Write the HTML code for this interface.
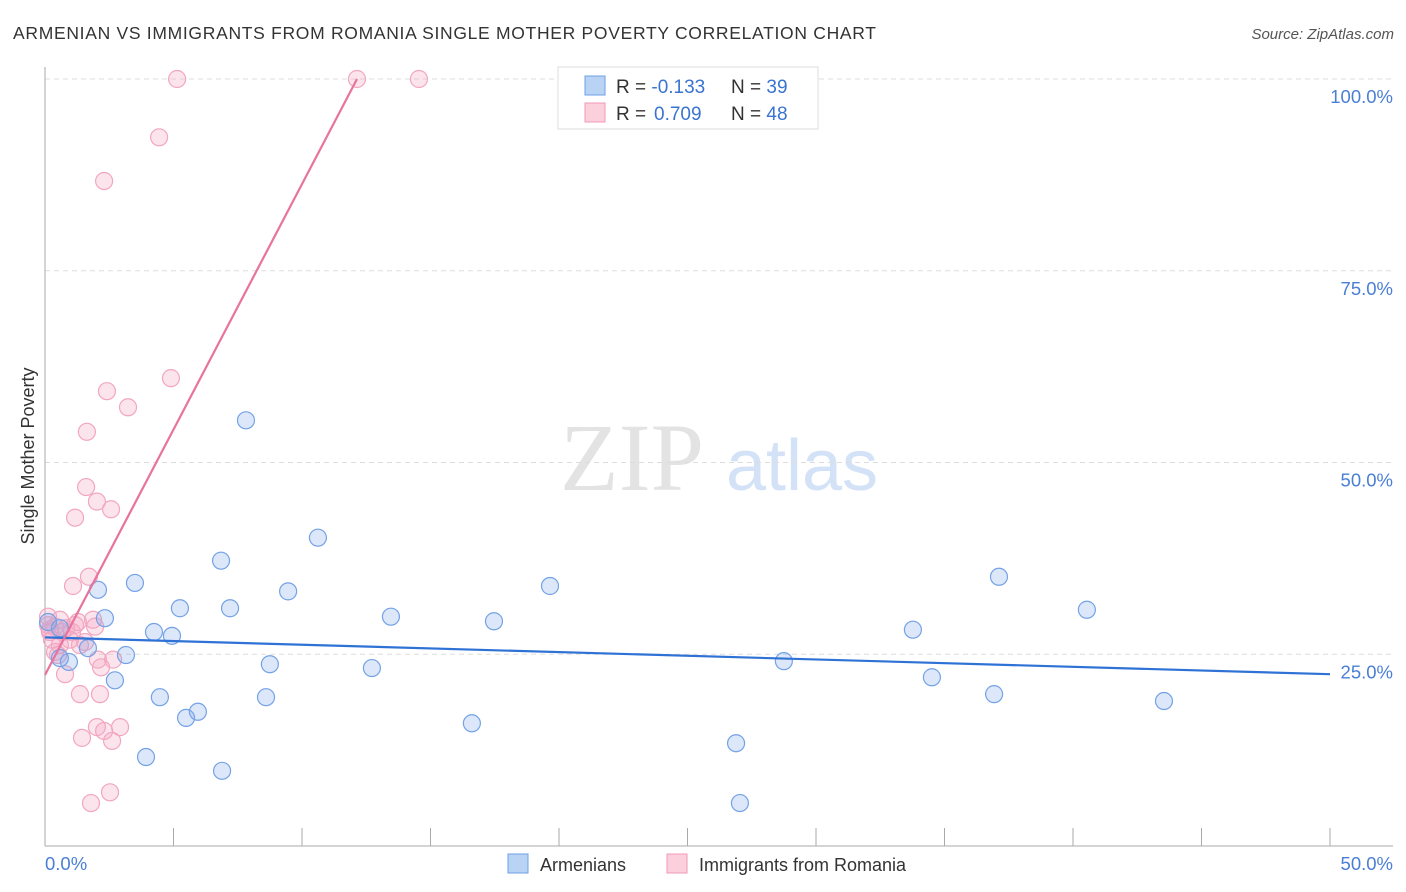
<!DOCTYPE html>
<html><head><meta charset="utf-8"><style>
body{margin:0;background:#fff;font-family:"Liberation Sans",sans-serif}
svg{display:block}
</style></head><body>
<svg id="chart" width="1406" height="892">
<text x="13" y="39" font-size="17.5" fill="#333" textLength="863">ARMENIAN VS IMMIGRANTS FROM ROMANIA SINGLE MOTHER POVERTY CORRELATION CHART</text>
<text x="1394" y="39" font-size="15" fill="#555" font-style="italic" text-anchor="end">Source: ZipAtlas.com</text>
<g><text x="632" y="490" font-size="96" fill="#ddd" font-family="Liberation Serif,serif" text-anchor="middle" opacity="0.8">ZIP</text><text x="802" y="490" font-size="72" fill="#d3e2f6" text-anchor="middle">atlas</text></g>
<text transform="translate(34,456) rotate(-90)" font-size="18" fill="#333" text-anchor="middle">Single Mother Poverty</text>
<g id="grid"></g><g id="axes"></g><g id="pts"></g><g id="trends"></g>
<g>
<rect x="558" y="67" width="260" height="62" fill="#fff" stroke="#ddd"/>
<rect x="585" y="76" width="20" height="19" fill="#b9d3f5" stroke="#6e9fe4"/>
<rect x="585" y="103" width="20" height="19" fill="#fbcfdc" stroke="#f09ab5"/>
<text x="616" y="93" font-size="19" fill="#333">R = <tspan fill="#3a74d0">-0.133</tspan><tspan x="731">N = </tspan><tspan fill="#3a74d0">39</tspan></text>
<text x="616" y="120" font-size="19" fill="#333">R = <tspan fill="#3a74d0" x="654">0.709</tspan><tspan x="731">N = </tspan><tspan fill="#3a74d0">48</tspan></text>
</g>
<g>
<rect x="508" y="854" width="20" height="19" fill="#b9d3f5" stroke="#6e9fe4"/>
<text x="540" y="871" font-size="18" fill="#333">Armenians</text>
<rect x="667" y="854" width="20" height="19" fill="#fbcfdc" stroke="#f09ab5"/>
<text x="699" y="871" font-size="18" fill="#333">Immigrants from Romania</text>
</g>
</svg>
<script>
const yTicks=[25,50,75,100];
const yTickLabels=["25.0%","50.0%","75.0%","100.0%"];
const blueX=[2.06,2.33,3.50,1.67,0.93,0.58,2.72,3.15,4.24,4.94,5.25,4.47,5.49,5.95,3.93,6.89,6.85,7.20,7.82,8.75,8.60,9.46,10.62,12.72,13.46,16.61,17.47,19.65,26.89,27.04,28.75,33.77,34.51,36.93,37.12,40.54,43.54,0.12,0.58];
const blueY=[33.4,29.7,34.3,25.8,24.0,24.5,21.6,24.9,27.9,27.4,31.0,19.4,16.7,17.5,11.6,9.8,37.2,31.0,55.5,23.7,19.4,33.2,40.2,23.2,29.9,16.0,29.3,33.9,13.4,5.6,24.1,28.2,22.0,19.8,35.1,30.8,18.9,29.2,28.4];
const pinkX=[5.14,12.14,14.55,4.44,2.30,4.90,2.41,3.23,1.63,1.60,2.02,2.57,1.17,1.09,1.71,1.87,1.28,1.95,0.58,0.39,0.66,0.19,0.12,0.97,1.56,1.36,0.39,0.51,2.06,2.65,0.78,2.18,2.14,1.36,2.02,2.30,2.92,1.44,2.61,1.79,2.53,0.12,0.19,0.82,1.05,0.58,0.27,1.17];
const pinkY=[100,100,100,92.4,86.7,61.0,59.3,57.2,54.0,46.8,44.9,43.9,42.8,33.9,35.1,29.5,29.2,28.6,29.5,28.6,27.9,28.2,28.8,26.9,26.6,26.2,25.3,24.9,24.3,24.3,22.4,23.3,19.8,19.8,15.5,15.0,15.5,14.1,13.7,5.6,7.0,29.9,27.9,28.4,27.9,26.2,26.9,28.8];
const blueTrend=[27.2,22.4];   // y at x=0, x=50
const pinkTrend=[22.3,6.4];    // intercept, slope per %
const NS="http://www.w3.org/2000/svg";
const sx=v=>45+v*25.7, sy=v=>846-v*7.67;
function mk(tag,attrs,parent){const e=document.createElementNS(NS,tag);for(const k in attrs)e.setAttribute(k,attrs[k]);parent.appendChild(e);return e;}
const grid=document.getElementById('grid'),axes=document.getElementById('axes'),pts=document.getElementById('pts'),tr=document.getElementById('trends');
yTicks.forEach((t,i)=>{
 const l=mk('line',{x1:45,x2:1393,y1:sy(t),y2:sy(t),stroke:'#ddd','stroke-dasharray':'5,4'},grid);
 
 
 const tx=mk('text',{x:1393,y:sy(t)+24,'font-size':18.5,fill:'#4a7fd4','text-anchor':'end'},grid);
 tx.textContent=yTickLabels[i];
 
 
});
const ax=mk('line',{x1:45,x2:45,y1:67,y2:846,stroke:'#aaa'},axes);


const xa=mk('line',{x1:45,x2:1393,y1:846,y2:846,stroke:'#aaa'},axes);


for(let i=0;i<=10;i++){const t=mk('line',{x1:sx(i*5),x2:sx(i*5),y1:828,y2:846,stroke:'#aaa'},axes);
 
 }
const x0=mk('text',{x:45,y:870,'font-size':18.5,fill:'#4a7fd4'},axes);x0.textContent='0.0%';


const x1=mk('text',{x:1393,y:870,'font-size':18.5,fill:'#4a7fd4','text-anchor':'end'},axes);x1.textContent='50.0%';


pinkX.forEach((x,i)=>{const c=mk('circle',{cx:sx(x),cy:sy(pinkY[i]),r:8.5,fill:'rgba(245,165,195,0.3)',stroke:'#f2a6bf','stroke-width':1.2},pts);
 
 });
blueX.forEach((x,i)=>{const c=mk('circle',{cx:sx(x),cy:sy(blueY[i]),r:8.5,fill:'rgba(130,170,235,0.28)',stroke:'#74a2e6','stroke-width':1.2},pts);
 
 });
const bl=mk('line',{x1:sx(0),y1:sy(blueTrend[0]),x2:sx(50),y2:sy(blueTrend[1]),stroke:'#2f72d6','stroke-width':2.2},tr);


const pxEnd=(100-pinkTrend[0])/pinkTrend[1];
const pl=mk('line',{x1:sx(0),y1:sy(pinkTrend[0]),x2:sx(pxEnd),y2:sy(100),stroke:'#e8739c','stroke-width':2.2},tr);


</script>
</body></html>
